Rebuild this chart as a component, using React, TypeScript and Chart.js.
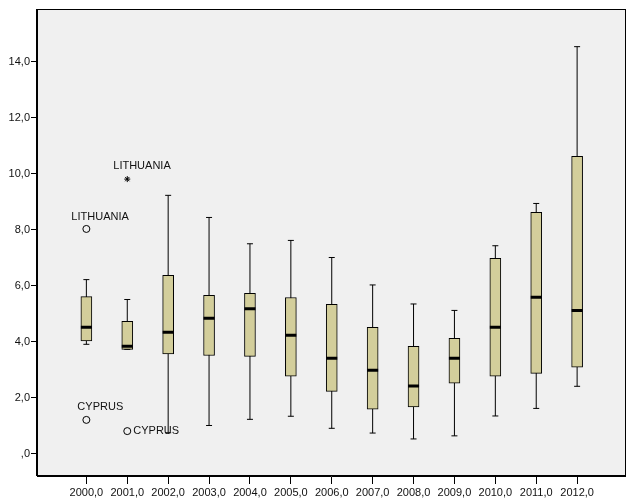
import React, { useEffect, useRef } from "react";
import { Chart, registerables } from "chart.js";

Chart.register(...registerables);

// ---- Data ----
const years = [2000, 2001, 2002, 2003, 2004, 2005, 2006, 2007, 2008, 2009, 2010, 2011, 2012];
const whiskerLow = [3.9, 3.72, 0.74, 1.0, 1.22, 1.33, 0.9, 0.73, 0.52, 0.63, 1.34, 1.61, 2.4];
const q1 = [4.02, 3.72, 3.56, 3.5, 3.47, 2.76, 2.22, 1.58, 1.66, 2.51, 2.76, 2.86, 3.08];
const medians = [4.51, 3.83, 4.33, 4.83, 5.17, 4.22, 3.4, 2.97, 2.41, 3.4, 4.51, 5.58, 5.11];
const q3 = [5.6, 4.72, 6.36, 5.65, 5.72, 5.57, 5.33, 4.51, 3.83, 4.11, 6.97, 8.61, 10.61];
const whiskerHigh = [6.21, 5.5, 9.22, 8.43, 7.49, 7.61, 7.0, 6.02, 5.34, 5.11, 7.42, 8.93, 14.53];

const outlierYears = [2000, 2000, 2001, 2001];
const outlierValues = [8.02, 1.2, 9.8, 0.8];
const outlierNames = ["LITHUANIA", "CYPRUS", "LITHUANIA", "CYPRUS"];
const outlierKinds = ["circle", "circle", "star", "circle"];

const yTicks = [0, 2, 4, 6, 8, 10, 12, 14];

// ---- Styles ----
const FONT = "'Liberation Sans', Arial, sans-serif";
const BOX_FILL = "#D3CE9B";
const PLOT_BG = "#F0F0F0";
// label placement per outlier: [dx, dy, align]
const labelPlacement: [number, number, CanvasTextAlign][] = [
  [-15, -12, "left"],
  [-9, -13, "left"],
  [-14, -13, "left"],
  [6, 0, "left"],
];

const fmt = (v: number) => (v === 0 ? ",0" : v.toFixed(1).replace(".", ","));

const framePlugin = {
  id: "frame",
  beforeDraw(chart: any) {
    const { ctx, chartArea: a } = chart;
    ctx.save();
    ctx.fillStyle = PLOT_BG;
    ctx.fillRect(a.left, a.top, a.right - a.left, a.bottom - a.top);
    ctx.restore();
  },
  afterDraw(chart: any) {
    const { ctx, chartArea: a } = chart;
    ctx.save();
    ctx.strokeStyle = "#000";
    ctx.lineWidth = 1;
    ctx.strokeRect(Math.round(a.left) - 0.5, Math.round(a.top) + 0.5, Math.round(a.right - a.left), Math.round(a.bottom - a.top) - 1);
    const xs = chart.scales.x;
    const ys = chart.scales.y;
    ctx.fillStyle = "#111";
    ctx.font = `11px ${FONT}`;
    ctx.textBaseline = "middle";
    outlierNames.forEach((name, i) => {
      const px = xs.getPixelForValue(outlierYears[i]);
      const py = ys.getPixelForValue(outlierValues[i]);
      const [dx, dy, align] = labelPlacement[i];
      ctx.textAlign = align;
      ctx.fillText(name, px + dx, py + dy);
    });
    ctx.restore();
  },
};

export default function App() {
  const ref = useRef<HTMLCanvasElement>(null);
  useEffect(() => {
    if (!ref.current) return;
    const whiskerData: any[] = [];
    years.forEach((yr, i) => {
      whiskerData.push({ x: yr, y: whiskerLow[i] });
      whiskerData.push({ x: yr, y: whiskerHigh[i] });
      whiskerData.push({ x: yr, y: null });
    });
    const chart = new Chart(ref.current, {
      type: "bar",
      data: {
        datasets: [
          {
            type: "line",
            data: whiskerData,
            borderColor: "#000",
            borderWidth: 1,
            pointStyle: "line",
            pointRadius: 3,
            pointBorderColor: "#000",
            pointBorderWidth: 1,
            spanGaps: false,
            order: 4,
          } as any,
          {
            type: "bar",
            data: years.map((yr, i) => ({ x: yr, y: [q1[i], q3[i]] })),
            backgroundColor: BOX_FILL,
            borderColor: "#000",
            borderWidth: 1,
            borderSkipped: false,
            barThickness: 11,
            grouped: false,
            order: 3,
          } as any,
          {
            type: "scatter",
            data: years.map((yr, i) => ({ x: yr, y: medians[i] })),
            pointStyle: "line",
            pointRadius: 5.5,
            borderColor: "#000",
            pointBorderWidth: 3,
            borderWidth: 3,
            order: 2,
          } as any,
          {
            type: "scatter",
            data: outlierYears.map((yr, i) => ({ x: yr, y: outlierValues[i] })),
            pointStyle: outlierKinds.map((k) => (k === "star" ? "star" : "circle")),
            pointRadius: outlierKinds.map((k) => (k === "star" ? 3 : 3.5)),
            backgroundColor: "rgba(0,0,0,0)",
            borderColor: "#000",
            borderWidth: 1,
            order: 1,
          } as any,
        ],
      },
      options: {
        animation: false,
        responsive: false,
        events: [],
        layout: { padding: { top: 9, right: 7, left: 0, bottom: 0 } },
        plugins: { legend: { display: false }, tooltip: { enabled: false } },
        scales: {
          x: {
            type: "linear",
            min: 1998.7927,
            max: 2013.1829,
            offset: false,
            afterBuildTicks: (s: any) => {
              s.ticks = years.map((v) => ({ value: v }));
            },
            afterFit: (s: any) => {
              s.height = 27;
            },
            grid: { display: true, drawOnChartArea: false, drawTicks: true, tickLength: 8, color: "#000", offset: false },
            border: { display: true, color: "#000" },
            ticks: {
              autoSkip: false,
              maxRotation: 0,
              padding: 2,
              color: "#111",
              font: { family: FONT, size: 11 },
              callback: (v: any) => fmt(Number(v)),
            },
          },
          y: {
            type: "linear",
            min: -0.8036,
            max: 15.875,
            afterBuildTicks: (s: any) => {
              s.ticks = yTicks.map((v) => ({ value: v }));
            },
            afterFit: (s: any) => {
              s.width = 37;
            },
            grid: { display: true, drawOnChartArea: false, drawTicks: true, tickLength: 6, color: "#000" },
            border: { display: true, color: "#000" },
            ticks: {
              padding: 1,
              color: "#111",
              font: { family: FONT, size: 11 },
              callback: (v: any) => fmt(Number(v)),
            },
          },
        },
      } as any,
      plugins: [framePlugin],
    });
    return () => chart.destroy();
  }, []);
  return (
    <div style={{ position: "fixed", left: 0, top: 0, width: 634, height: 503, background: "#fff" }}>
      <canvas ref={ref} width={634} height={503} style={{ display: "block", width: 634, height: 503 }} />
    </div>
  );
}
